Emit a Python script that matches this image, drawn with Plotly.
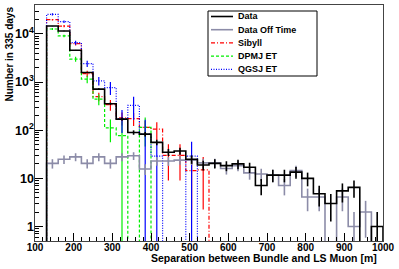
import numpy as np
import plotly.graph_objects as go

# ---- data ----
bin_edges = list(range(130, 1001, 30))  # 29 bins of 30 m

data_vals = [14600, 11500, 4600, 1580, 715, 355, 170, 90, 83, 56,
             35, 37, 25, 19, 20.5, 18.4, 20, 17, 7.1, 11.7,
             11.7, 13.5, 10, 4.8, 3.0, 5.5, 6.5, 0, 1.0]
offtime_vals = [20.5, 25, 28, 20.5, 28, 20.5, 28, 29.5, 15.7, 23,
                23, 24, 24, 21, 21, 16, 18.4, 13, 12.3, 11.7,
                7.1, 14.5, 4.1, 4.1, 0, 4.1, 1.0, 2.0, 0]
sibyll_vals = [19800, 14600, 6300, 1500, 500, 340, 180, 175, 115, 105,
               30, 30, 14.5, 15, 0, 0, 0, 0, 0, 0,
               0, 0, 0, 0, 0, 0, 0, 0, 0]
dpmjet_vals = [12700, 9100, 3000, 1150, 443, 112, 77, 0, 115, 0,
               0, 0, 0, 0, 0, 0, 0, 0, 0, 0,
               0, 0, 0, 0, 0, 0, 0, 0, 0]
qgsjet_vals = [25600, 18000, 6600, 2430, 1060, 770, 175, 330, 83, 29,
               0, 0, 29, 0, 0, 0, 0, 0, 0, 0,
               0, 0, 0, 0, 0, 0, 0, 0, 0]
# relative statistical errors of the simulations
sibyll_relerr = [0.04, 0.05, 0.08, 0.15, 0.2, 0.25, 0.3, 0.3, 0.35, 0.4,
                 0.7, 0.7, 0.85, 0.85] + [0] * 15
dpmjet_relerr = [0.05, 0.06, 0.12, 0.18, 0.25, 0.5, 1.0, 0, 0.6] + [0] * 20
qgsjet_relerr = [0.05, 0.06, 0.1, 0.15, 0.2, 0.3, 0.5, 0.5, 1.0, 1.0,
                 0, 0, 1.0] + [0] * 16

legend_names = ["Data", "Data Off Time", "Sibyll", "DPMJ ET", "QGSJ ET"]

FLOOR = 1e-3  # below the axis range: empty bins drop to the frame

edges = np.array(bin_edges, dtype=float)
centers = 0.5 * (edges[:-1] + edges[1:])

fig = go.Figure()

styles = {
    "Data": ("#000000", 1.6, "solid"),
    "Data Off Time": ("#8c8ca8", 1.6, "solid"),
    "Sibyll": ("#ff0000", 1.2, "4px,2px,1px,2px"),
    "DPMJ ET": ("#00ee00", 1.2, "3px,2px"),
    "QGSJ ET": ("#0000ff", 1.2, "1px,1.5px"),
}


def add_hist(name, vals, errs):
    color, width, dash = styles[name]
    v = np.array(vals, dtype=float)
    vv = np.where(v > 0, v, FLOOR)
    xs = np.concatenate([[edges[0]], edges[:-1], [edges[-1]]])
    ys = np.concatenate([[FLOOR], vv, [FLOOR]])
    fig.add_trace(go.Scatter(x=xs, y=ys, mode="lines", name=name,
                             line=dict(color=color, width=width, dash=dash, shape="hv"),
                             showlegend=False, hoverinfo="skip"))
    e = np.array(errs, dtype=float)
    m = v > 0
    lo = np.minimum(e[m], v[m] - FLOOR * 0.1)
    fig.add_trace(go.Scatter(x=centers[m], y=v[m], mode="markers",
                             marker=dict(size=1, color=color, opacity=0),
                             error_y=dict(type="data", array=e[m], arrayminus=lo,
                                          color=color, thickness=width, width=0),
                             showlegend=False, hoverinfo="skip"))


sib = np.array(sibyll_vals) * np.array(sibyll_relerr)
dpm = np.array(dpmjet_vals) * np.array(dpmjet_relerr)
qgs = np.array(qgsjet_vals) * np.array(qgsjet_relerr)

add_hist("Sibyll", sibyll_vals, sib)
add_hist("DPMJ ET", dpmjet_vals, dpm)
add_hist("QGSJ ET", qgsjet_vals, qgs)
add_hist("Data Off Time", offtime_vals, np.sqrt(offtime_vals))
add_hist("Data", data_vals, np.sqrt(data_vals))

font_family = "Liberation Sans, Arial, Helvetica, sans-serif"

# ---- compact legend box (ROOT TLegend look) ----
L, T, PW, PH = 35, 5, 348, 236


def px2paper(px, py):
    return (px - L) / PW, (T + PH - py) / PH


shapes = []
annotations = []
bx0, by0 = px2paper(208, 76)
bx1, by1 = px2paper(317, 11)
shapes.append(dict(type="rect", xref="paper", yref="paper", x0=bx0, y0=by0, x1=bx1, y1=by1,
                   line=dict(color="black", width=1), fillcolor="white", layer="above"))
row_y = [16.5, 29.7, 42.9, 56.1, 69.3]
for name, py in zip(legend_names, row_y):
    color, width, dash = styles[name]
    x0, yy = px2paper(211, py)
    x1, _ = px2paper(233, py)
    shapes.append(dict(type="line", xref="paper", yref="paper", x0=x0, x1=x1, y0=yy, y1=yy,
                       line=dict(color=color, width=width, dash=dash), layer="above"))
    tx, _ = px2paper(236, py)
    annotations.append(dict(text=name, xref="paper", yref="paper", x=tx, y=yy,
                            xanchor="left", yanchor="middle", showarrow=False,
                            font=dict(size=9, weight="bold", family=font_family)))

title_x, title_y = px2paper(379, 258)
ytitle_x, ytitle_y = px2paper(9, 5)
annotations += [
    dict(text="Separation between Bundle and LS Muon [m]", xref="paper", yref="paper",
         x=title_x, y=title_y, xanchor="right", yanchor="middle", showarrow=False,
         font=dict(size=10.5, weight="bold")),
    dict(text="Number in 335 days", xref="paper", yref="paper",
         x=ytitle_x, y=ytitle_y, xanchor="center", yanchor="top", textangle=-90,
         showarrow=False, font=dict(size=10, weight="bold")),
]

fig.update_layout(
    width=399, height=269,
    margin=dict(l=35, r=16, t=5, b=28),
    paper_bgcolor="white", plot_bgcolor="white",
    font=dict(family=font_family, size=10, color="black", weight="bold"),
    showlegend=False,
    xaxis=dict(range=[100, 1000], showgrid=False, zeroline=False, automargin=False,
               tickmode="linear", tick0=100, dtick=100,
               ticks="inside", ticklen=8, tickcolor="black", ticklabelstandoff=-3,
               showline=True, linecolor="#444", linewidth=1.2, mirror=True,
               minor=dict(dtick=20, ticks="inside", ticklen=4, tickcolor="black"),
               tickfont=dict(size=10, weight="bold")),
    yaxis=dict(type="log", range=[np.log10(0.5), np.log10(40000)],
               showgrid=False, zeroline=False, automargin=False,
               dtick=1, exponentformat="power",
               ticks="inside", ticklen=8, tickcolor="black", ticklabelstandoff=-2,
               showline=True, linecolor="#444", linewidth=1.2, mirror=True,
               minor=dict(dtick="D1", ticks="inside", ticklen=4, tickcolor="black"),
               tickfont=dict(size=10, weight="bold")),
    shapes=shapes,
    annotations=annotations,
)

fig.write_html("out.html", config={"displayModeBar": False},
               post_script="document.body.style.margin='0';document.body.style.padding='0';")
